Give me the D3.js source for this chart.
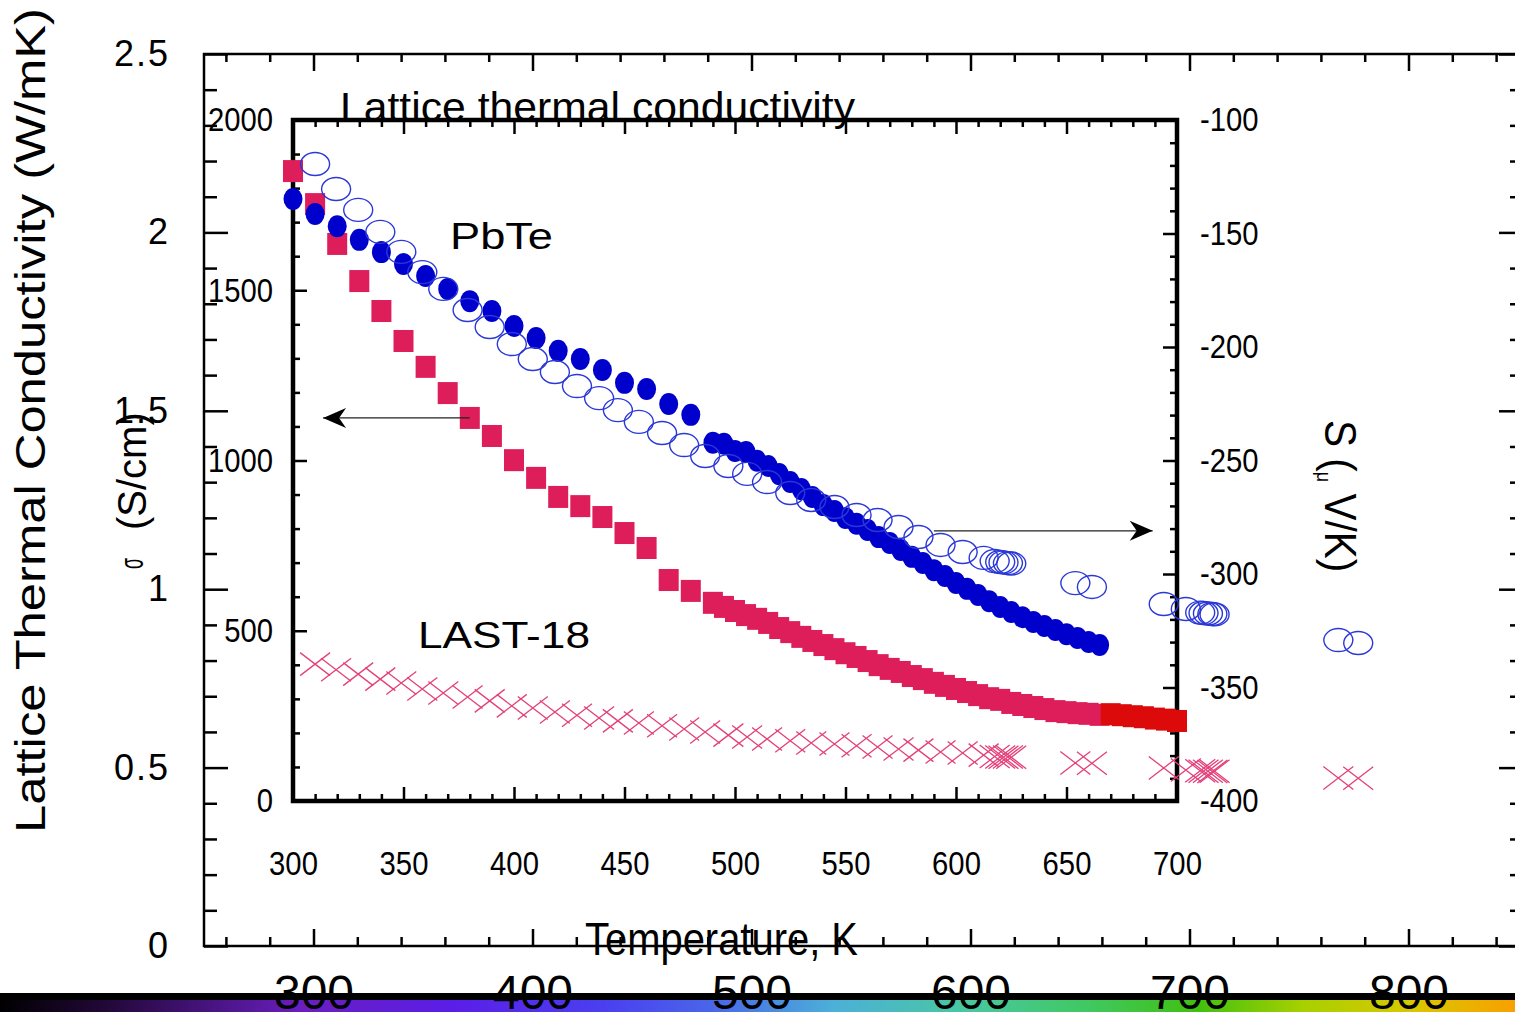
<!doctype html>
<html>
<head>
<meta charset="utf8">
<title>Lattice thermal conductivity</title>
<script src="https://cdn.jsdelivr.net/npm/d3@7/dist/d3.min.js"></script>
<style>
    body { margin: 0; background: #fff; }
    svg text { font-family: "Liberation Sans", Arial, sans-serif; fill: #000; }
</style>
</head>
<body>
<div id="chart"></div>
<script>
"use strict";
// ---- outer chart: lattice thermal conductivity ----
const kTicks = [0, 0.5, 1, 1.5, 2, 2.5];
const tOuterTicks = [300, 400, 500, 600, 700, 800];

// ---- inner chart ticks ----
const tInnerTicks = [300, 350, 400, 450, 500, 550, 600, 650, 700];
const sigmaTicks = [0, 500, 1000, 1500, 2000];
const seebeckTicks = [-400, -350, -300, -250, -200, -150, -100];

// temperatures (K) of the sigma data, squares and filled circles
const tempA = [300, 310, 320, 330, 340, 350, 360, 370, 380, 390, 400, 410, 420, 430, 440, 450, 460, 470, 480,
    490, 495, 500, 505, 510, 515, 520, 525, 530, 535, 540, 545, 550, 555, 560, 565, 570, 575, 580, 585,
    590, 595, 600, 605, 610, 615, 620, 625, 630, 635, 640, 645, 650, 655, 660, 665];
const sigmaSquares = [1850, 1753, 1636, 1527, 1439, 1351, 1275, 1198, 1125, 1072, 1001, 949, 893, 866, 834, 787, 743, 649, 617,
    582, 570, 558, 546, 535, 523, 508, 496, 482, 470, 458, 446, 434, 423, 411, 399, 388, 379, 367, 358,
    347, 338, 329, 320, 311, 302, 297, 288, 282, 276, 270, 264, 261, 258, 256, 253];
const sigmaCircles = [1768, 1724, 1688, 1648, 1612, 1577, 1542, 1504, 1468, 1439, 1395, 1360, 1322, 1298, 1266, 1228, 1210, 1166, 1134,
    1052, 1049, 1028, 1025, 999, 984, 960, 937, 916, 893, 869, 852, 831, 814, 796, 775, 758, 737, 717, 699,
    678, 661, 640, 623, 605, 587, 570, 555, 540, 526, 514, 502, 490, 479, 467, 458];
// high temperature end of the square series (red)
const tempRed = [670, 675, 680, 685, 690, 695, 700];
const sigmaRed = [255, 252, 249, 246, 242, 239, 235];

// temperatures of the Seebeck (open circles) and lattice kappa (crosses) data
const tempB = [310, 319.5, 329.5, 339.5, 349, 358.5, 368, 379, 389, 399, 408.5, 418.5, 428.5, 438.5, 447, 456.5,
    467, 477, 486.5, 497, 505.5, 514.5, 525, 534.5, 545, 555, 564.5, 574, 583, 593, 603, 612.5,
    617.5, 620, 621.5, 623.5, 625, 654, 661.5, 694, 704, 710.5, 712, 714, 716, 717, 773, 782];
const seebeck = [-119.4, -130.4, -139.6, -149.3, -158.1, -167.0, -174.4, -183.7, -191.2, -198.7, -205.3, -211.0, -217.2, -222.5, -227.8, -233.0,
    -237.9, -243.2, -248.0, -252.4, -255.9, -259.5, -264.3, -267.4, -270.5, -274.0, -276.2, -279.3, -283.7, -287.2, -290.3, -292.9,
    -294.3, -294.7, -294.9, -295.2, -295.4, -304.0, -305.7, -313.2, -315.4, -317.0, -317.2, -317.4, -317.6, -317.8, -329.1, -330.4];
const kappaLat = [0.790, 0.774, 0.762, 0.748, 0.737, 0.720, 0.709, 0.698, 0.687, 0.673, 0.667, 0.656, 0.647, 0.639, 0.631, 0.625,
    0.617, 0.608, 0.600, 0.591, 0.586, 0.580, 0.575, 0.569, 0.566, 0.561, 0.558, 0.552, 0.549, 0.544, 0.541, 0.535,
    0.531, 0.530, 0.529, 0.530, 0.529, 0.513, 0.512, 0.499, 0.493, 0.491, 0.490, 0.490, 0.489, 0.490, 0.471, 0.470];

const W = 1515, H = 1012;
const svg = d3.select("#chart").append("svg").attr("width", W).attr("height", H);

// scales
const xOut = d3.scaleLinear().domain([250, 850]).range([204, 1518]);
const yK = d3.scaleLinear().domain([0, 2.5]).range([946, 54]);
const xIn = d3.scaleLinear().domain([300, 700]).range([293, 1177]);
const ySig = d3.scaleLinear().domain([0, 2000]).range([801, 120]);
const yS = d3.scaleLinear().domain([-400, -100]).range([801, 120]);

// colour bar at the bottom
const grad = svg.append("defs").append("linearGradient").attr("id", "rainbow");
[[0, "#000000"], [0.07, "#220838"], [0.2, "#6a1ec0"], [0.3, "#5a1ee8"], [0.4, "#4a40f0"], [0.47, "#4a66e8"],
 [0.55, "#4cb0d8"], [0.64, "#48c8a0"], [0.72, "#40c860"], [0.79, "#40c010"], [0.86, "#a8d000"],
 [0.93, "#d8c800"], [1, "#f8a000"]].forEach(s => grad.append("stop").attr("offset", s[0]).attr("stop-color", s[1]));
svg.append("rect").attr("x", 0).attr("y", 1000).attr("width", W).attr("height", 12).attr("fill", "url(#rainbow)");
svg.append("rect").attr("x", 0).attr("y", 993).attr("width", W).attr("height", 7).attr("fill", "#000");

// no condensed face installed: squeeze the glyphs to look like Arial Narrow
function narrow(sel, f) {
    sel.each(function () {
        const w = this.getComputedTextLength();
        d3.select(this).attr("textLength", w * (f || 0.86)).attr("lengthAdjust", "spacingAndGlyphs");
    });
}
function styleAxis(g, width, size, squeeze) {
    g.select(".domain").remove();
    g.selectAll("line").attr("stroke", "#000").attr("stroke-width", width);
    g.attr("font-family", null).attr("font-size", size);
    g.selectAll("text").attr("fill", "#000");
    if (squeeze) narrow(g.selectAll("text"));
    return g;
}
const noLabel = () => "";
const minor = (lo, hi, step, majors) => d3.range(lo, hi + step / 2, step).filter(v => !majors.some(m => Math.abs(m - v) < 1e-6));

// ---- outer frame and axes ----
svg.append("rect").attr("x", 204).attr("y", 54).attr("width", 1314).attr("height", 892)
    .attr("fill", "none").attr("stroke", "#000").attr("stroke-width", 2.5);

const kMinor = minor(0, 2.5, 0.1, kTicks);
styleAxis(svg.append("g").attr("transform", "translate(204,0)")
    .call(d3.axisLeft(yK).tickValues(kMinor).tickSize(-13).tickFormat(noLabel)), 2.5);
styleAxis(svg.append("g").attr("transform", "translate(204,0)")
    .call(d3.axisLeft(yK).tickValues(kTicks).tickSize(-24).tickPadding(34).tickFormat(d => String(d))), 2.5, 36)
    .selectAll("text").attr("letter-spacing", 2);
styleAxis(svg.append("g").attr("transform", "translate(1518,0)")
    .call(d3.axisRight(yK).tickValues(kMinor).tickSize(-8).tickFormat(noLabel)), 2.5);
styleAxis(svg.append("g").attr("transform", "translate(1518,0)")
    .call(d3.axisRight(yK).tickValues(kTicks).tickSize(-19).tickFormat(noLabel)), 2.5);

const tOutMinor = minor(260, 840, 20, tOuterTicks);
styleAxis(svg.append("g").attr("transform", "translate(0,54)")
    .call(d3.axisTop(xOut).tickValues(tOutMinor).tickSize(-8).tickFormat(noLabel)), 2.5);
styleAxis(svg.append("g").attr("transform", "translate(0,54)")
    .call(d3.axisTop(xOut).tickValues(tOuterTicks).tickSize(-17).tickFormat(noLabel)), 2.5);
styleAxis(svg.append("g").attr("transform", "translate(0,946)")
    .call(d3.axisBottom(xOut).tickValues(tOutMinor).tickSize(-9).tickFormat(noLabel)), 2.5);
const outBottom = styleAxis(svg.append("g").attr("transform", "translate(0,946)")
    .call(d3.axisBottom(xOut).tickValues(tOuterTicks).tickSize(-17).tickPadding(29).tickFormat(d => String(d))), 2.5, 48);

// ---- inner frame and axes ----
const tInMinor = minor(300, 700, 10, tInnerTicks);
styleAxis(svg.append("g").attr("transform", "translate(0,801)")
    .call(d3.axisBottom(xIn).tickValues(tInMinor).tickSize(-7).tickFormat(noLabel)), 2.5);
styleAxis(svg.append("g").attr("transform", "translate(0,801)")
    .call(d3.axisBottom(xIn).tickValues(tInnerTicks).tickSize(-14).tickPadding(50).tickFormat(d => String(d))), 2.5, 34, true);
styleAxis(svg.append("g").attr("transform", "translate(0,120)")
    .call(d3.axisTop(xIn).tickValues(tInMinor).tickSize(-7).tickFormat(noLabel)), 2.5);
styleAxis(svg.append("g").attr("transform", "translate(0,120)")
    .call(d3.axisTop(xIn).tickValues(tInnerTicks).tickSize(-14).tickFormat(noLabel)), 2.5);

styleAxis(svg.append("g").attr("transform", "translate(293,0)")
    .call(d3.axisLeft(ySig).tickValues(minor(0, 2000, 100, sigmaTicks)).tickSize(-7).tickFormat(noLabel)), 2.5);
styleAxis(svg.append("g").attr("transform", "translate(293,0)")
    .call(d3.axisLeft(ySig).tickValues(sigmaTicks).tickSize(-14).tickPadding(20).tickFormat(d => String(d))), 2.5, 34, true);
styleAxis(svg.append("g").attr("transform", "translate(1177,0)")
    .call(d3.axisRight(yS).tickValues(minor(-400, -100, 10, seebeckTicks)).tickSize(-7).tickFormat(noLabel)), 2.5);
styleAxis(svg.append("g").attr("transform", "translate(1177,0)")
    .call(d3.axisRight(yS).tickValues(seebeckTicks).tickSize(-14).tickPadding(23).tickFormat(d => String(d))), 2.5, 34, true);

svg.append("rect").attr("x", 293).attr("y", 120).attr("width", 884).attr("height", 681)
    .attr("fill", "none").attr("stroke", "#000").attr("stroke-width", 4.5);

// ---- data ----
const sq = tempA.map((t, i) => [t, sigmaSquares[i]]);
const sqRed = tempRed.map((t, i) => [t, sigmaRed[i]]);
const fc = tempA.map((t, i) => [t, sigmaCircles[i]]);
const oc = tempB.map((t, i) => [t, seebeck[i]]);
const cr = tempB.map((t, i) => [t, kappaLat[i]]);

svg.append("g").selectAll("rect").data(sq).join("rect")
    .attr("x", d => xIn(d[0]) - 10).attr("y", d => ySig(d[1]) - 11)
    .attr("width", 20).attr("height", 22).attr("fill", "#de1e5a");
svg.append("g").selectAll("rect").data(sqRed).join("rect")
    .attr("x", d => xIn(d[0]) - 10).attr("y", d => ySig(d[1]) - 11)
    .attr("width", 20).attr("height", 22).attr("fill", "#dc0a0a");
svg.append("g").selectAll("ellipse").data(fc).join("ellipse")
    .attr("cx", d => xIn(d[0])).attr("cy", d => ySig(d[1]))
    .attr("rx", 9.5).attr("ry", 11).attr("fill", "#0000cc");
svg.append("g").selectAll("ellipse").data(oc).join("ellipse")
    .attr("cx", d => xIn(d[0])).attr("cy", d => yS(d[1]))
    .attr("rx", 14.5).attr("ry", 11.5).attr("fill", "none").attr("stroke", "#2a38d8").attr("stroke-width", 1.4);
svg.append("g").selectAll("path").data(cr).join("path")
    .attr("transform", d => `translate(${xIn(d[0])},${yK(d[1])})`)
    .attr("d", "M-15,-11.5L15,11.5M-15,11.5L15,-11.5")
    .attr("fill", "none").attr("stroke", "#e4407a").attr("stroke-width", 1.3);

// ---- arrows ----
function arrow(x1, x2, y, dir) {
    svg.append("line").attr("x1", x1).attr("x2", x2).attr("y1", y).attr("y2", y)
        .attr("stroke", "#222").attr("stroke-width", 1.3);
    const t = dir < 0 ? x1 : x2, s = -dir;
    svg.append("path")
        .attr("d", `M${t},${y}L${t + s * 23},${y - 10}L${t + s * 16},${y}L${t + s * 23},${y + 10}Z`)
        .attr("fill", "#000");
}
arrow(xIn(313.6), xIn(380), ySig(1125), -1);
arrow(xIn(590), xIn(689), yS(-281), 1);

// ---- texts ----
svg.append("text").attr("x", 340).attr("y", 121).attr("font-size", 41)
    .attr("textLength", 515).attr("lengthAdjust", "spacingAndGlyphs").text("Lattice thermal conductivity");
svg.append("text").attr("x", 585).attr("y", 955).attr("font-size", 46)
    .attr("textLength", 273).attr("lengthAdjust", "spacingAndGlyphs").text("Temperature, K");
svg.append("text").attr("transform", "translate(45,833) rotate(-90)").attr("font-size", 42)
    .attr("textLength", 825).attr("lengthAdjust", "spacingAndGlyphs").text("Lattice Thermal Conductivity (W/mK)");
svg.append("text").attr("transform", "translate(146,530) rotate(-90)").attr("font-size", 40).text("(S/cm)");
svg.append("text").attr("transform", "translate(143,569) rotate(-90)").attr("font-size", 34)
    .attr("textLength", 11).attr("lengthAdjust", "spacingAndGlyphs").text("σ");
const sLab = svg.append("text").attr("transform", "translate(1325,420) rotate(90)").attr("font-size", 45);
sLab.append("tspan").text("S (");
sLab.append("tspan").attr("font-size", 20).attr("dy", 8).text("μ");
sLab.append("tspan").attr("dy", -8).text(" V/K)");
narrow(sLab, 0.9);
svg.append("text").attr("x", 450).attr("y", 249).attr("font-size", 37)
    .attr("textLength", 103).attr("lengthAdjust", "spacingAndGlyphs").text("PbTe");
svg.append("text").attr("x", 418).attr("y", 648).attr("font-size", 37)
    .attr("textLength", 172).attr("lengthAdjust", "spacingAndGlyphs").text("LAST-18");

// outer bottom labels sit on top of the colour bar
outBottom.raise();
</script>
</body>
</html>
